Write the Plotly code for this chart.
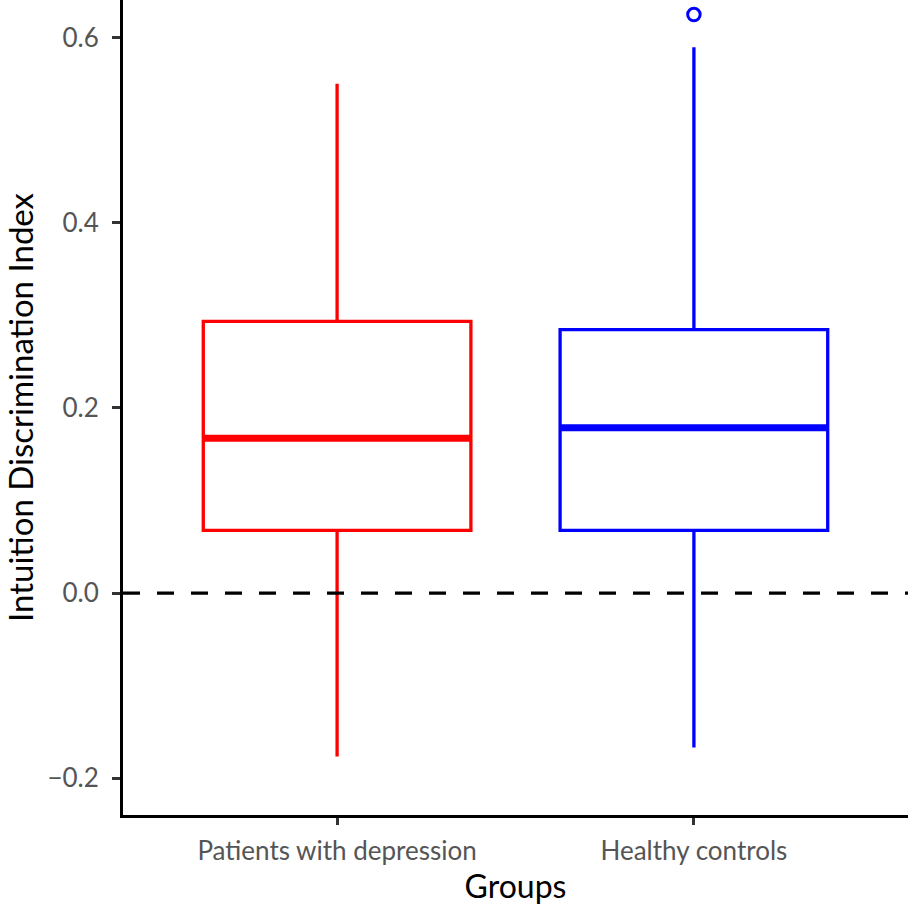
import plotly.graph_objects as go

groups = ["Patients with depression", "Healthy controls"]
positions = [1, 2]
colors = ["#FF0000", "#0000FF"]
q1 = [0.0677, 0.0677]
median = [0.1673, 0.1785]
q3 = [0.2935, 0.2846]
lower_whisker = [-0.1763, -0.1668]
upper_whisker = [0.550, 0.5896]
outlier_x = [2]
outlier_y = [0.6248]
box_width = 0.75

fig = go.Figure()
for i in range(2):
    fig.add_trace(go.Box(
        x=[positions[i]], q1=[q1[i]], median=[median[i]], q3=[q3[i]],
        lowerfence=[lower_whisker[i]], upperfence=[upper_whisker[i]],
        width=box_width, whiskerwidth=0, boxpoints=False,
        line=dict(color=colors[i], width=3.3), fillcolor="rgba(255,255,255,0)",
        showlegend=False, hoverinfo="skip"))
    fig.add_trace(go.Scatter(
        x=[positions[i] - box_width / 2, positions[i] + box_width / 2],
        y=[median[i], median[i]], mode="lines",
        line=dict(color=colors[i], width=7), showlegend=False, hoverinfo="skip"))

fig.add_trace(go.Scatter(
    x=outlier_x, y=outlier_y, mode="markers",
    marker=dict(symbol="circle-open", size=12.5, color="#0000FF", line=dict(width=3, color="#0000FF")),
    showlegend=False, hoverinfo="skip"))

fig.add_hline(y=0, line=dict(color="black", width=3.3, dash="17px,17px"))

font_family = "Lato, 'Noto Sans', sans-serif"
fig.update_layout(
    width=908, height=906,
    margin=dict(l=123, r=0, t=0, b=91),
    plot_bgcolor="white", paper_bgcolor="white",
    font=dict(family=font_family, color="black"),
    xaxis=dict(
        range=[0.4, 2.6], tickvals=positions, ticktext=groups,
        showline=True, linecolor="black", linewidth=3, showgrid=False, zeroline=False,
        ticks="outside", ticklen=7, tickwidth=3, tickcolor="#333333",
        ticklabelstandoff=4,
        tickfont=dict(size=26, color="#555555"),
        title=dict(text="Groups", font=dict(size=32, color="black"), standoff=6)),
    yaxis=dict(
        range=[-0.2396, 0.6405], tickvals=[-0.2, 0, 0.2, 0.4, 0.6],
        ticktext=["\u22120.2", "0.0", "0.2", "0.4", "0.6"],
        showline=True, linecolor="black", linewidth=3, showgrid=False, zeroline=False,
        ticks="outside", ticklen=8, tickwidth=3, tickcolor="#333333",
        ticklabelstandoff=8,
        tickfont=dict(size=26, color="#555555"),
        title=dict(text="Intuition Discrimination Index", font=dict(size=33, color="black"), standoff=10)),
)

fig.write_html("out.html", config={"displayModeBar": False},
               post_script="document.body.style.margin='0';document.body.style.overflow='hidden';")
